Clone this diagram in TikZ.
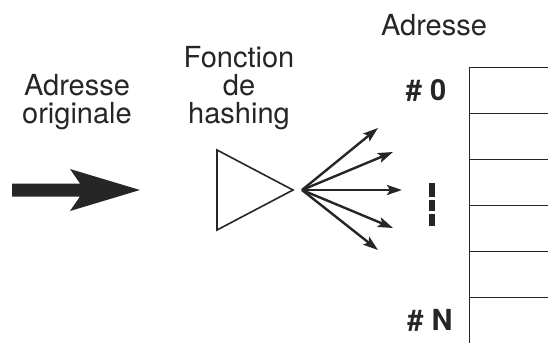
\documentclass[tikz,border=0pt]{standalone}
\usepackage{fontspec}
\setmainfont{TeX Gyre Heros}
\usetikzlibrary{arrows.meta}
\begin{document}
\begin{tikzpicture}[x=1pt,y=-1pt,
  lbl/.style={anchor=base,inner sep=0pt,font=\fontsize{29}{29}\selectfont,text=black!85},
  idx/.style={anchor=base,inner sep=0pt,font=\fontsize{29}{29}\selectfont\bfseries,text=black!85},
  fan/.style={line width=2.4pt,draw=black!85,-{Stealth[length=15pt,width=10pt,inset=3pt]}},
  cell/.style={line width=1pt,draw=black!85}]
\useasboundingbox (0,0) rectangle (548,343);
% texts
\node[lbl] (a1) at (77,95) {Adresse};
\node[lbl] (a2) at (77,123) {originale};
\node[lbl] (f1) at (239,67) {Fonction};
\node[lbl] (f2) at (239,95) {de};
\node[lbl] (f3) at (239,123) {hashing};
\node[lbl] (ad) at (434,35) {Adresse};
\node[idx] (n0) at (426,100) {\# 0};
\node[idx] (nN) at (430,330) {\# N};
% big arrow
\fill[black!85] (12,183.5) -- (80,183.5) -- (70,169) -- (140,190) -- (70,211) -- (80,196.5) -- (12,196.5) -- cycle;
% triangle
\coordinate (tl) at (217,150);
\coordinate (tb) at (217,230);
\coordinate (tip) at (293,190);
\draw[line width=1.6pt,draw=black!85,line join=miter] (tl) -- (tip) -- (tb) -- cycle;
% fan
\coordinate (o) at (302,190);
\coordinate (e1) at (378,128);
\coordinate (e2) at (393,152);
\coordinate (e3) at (402,190);
\coordinate (e4) at (393,228);
\coordinate (e5) at (378,250);
\foreach \e in {e1,e2,e3,e4,e5} \draw[fan] (o) -- (\e);
% dashed bar
\foreach \ya/\yb in {183/197, 199.5/211, 213.5/226}
  \draw[line width=5.5pt,draw=black!85] (432,\ya) -- (432,\yb);
% table
\draw[cell] (469,343) -- (469,67) -- (548,67);
\foreach \y in {113,159,205,251,297} \draw[cell] (469,\y) -- (548,\y);
\end{tikzpicture}
\end{document}
